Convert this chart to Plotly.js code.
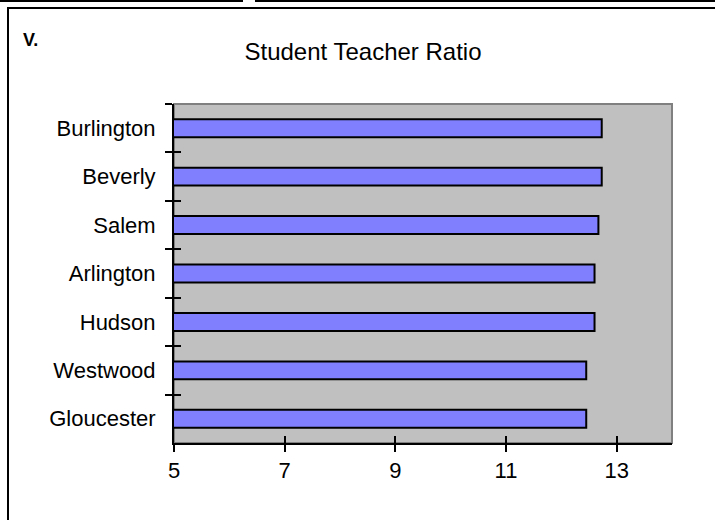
<!DOCTYPE html>
<html>
<head>
<meta charset="utf-8">
<script src="https://cdn.plot.ly/plotly-3.0.1.min.js"></script>
<style>
  html, body { margin: 0; padding: 0; background: #ffffff; }
  #wrap { position: relative; width: 715px; height: 520px; overflow: hidden; }
  #chart { position: absolute; left: 0; top: 0; width: 715px; height: 520px; }
  .rule { position: absolute; background: #000; }
</style>
</head>
<body>
<div id="wrap">
  <div class="rule" style="left:0;top:0;width:243px;height:2px;"></div>
  <div class="rule" style="left:255px;top:0;width:460px;height:2px;"></div>
  <div class="rule" style="left:7px;top:7px;width:708px;height:2px;"></div>
  <div class="rule" style="left:7px;top:7px;width:2px;height:513px;"></div>
  <div id="chart"></div>
</div>
<script>
// Data (top to bottom as shown)
const schools = ['Burlington', 'Beverly', 'Salem', 'Arlington', 'Hudson', 'Westwood', 'Gloucester'];
const ratios = [12.73, 12.73, 12.67, 12.6, 12.6, 12.45, 12.45];
const xTicks = [5, 7, 9, 11, 13];
const chartTitle = 'Student Teacher Ratio';
const cornerLabel = 'V.';

const FONT = 'Liberation Sans, Arial, sans-serif';

const traces = [
  {
    type: 'bar',
    orientation: 'h',
    x: ratios,
    y: schools,
    marker: { color: '#8080ff', line: { color: '#000000', width: 2 } },
    hoverinfo: 'x+y',
    showlegend: false
  },
  {
    type: 'bar',
    orientation: 'h',
    x: ratios,
    y: schools,
    xaxis: 'x2',
    yaxis: 'y2',
    marker: { color: 'rgba(0,0,0,0)', line: { width: 0 } },
    hoverinfo: 'skip',
    showlegend: false
  }
];

const layout = {
  width: 715,
  height: 520,
  margin: { l: 174, r: 43, t: 104, b: 77, pad: 0 },
  paper_bgcolor: 'rgba(0,0,0,0)',
  plot_bgcolor: '#c0c0c0',
  bargap: 0.63,
  font: { family: FONT, size: 22, color: '#000000' },
  title: {
    text: chartTitle,
    font: { family: FONT, size: 24, color: '#000000' },
    xref: 'container', x: 363 / 715, xanchor: 'center',
    yref: 'container', y: 1 - 52 / 520, yanchor: 'middle'
  },
  xaxis: {
    range: [5, 14],
    tickvals: xTicks,
    ticktext: xTicks.map(String),
    ticks: 'outside', ticklen: 7, tickwidth: 2, tickcolor: '#000',
    showline: true, linecolor: '#000', linewidth: 2,
    showgrid: false, zeroline: false,
    tickfont: { family: FONT, size: 22, color: '#000' },
    ticklabelstandoff: 0,
    fixedrange: true
  },
  xaxis2: {
    overlaying: 'x', anchor: 'y2', side: 'bottom',
    range: [5, 14], tickvals: xTicks,
    ticks: 'inside', ticklen: 7, tickwidth: 2, tickcolor: '#000',
    showticklabels: false, showline: false, showgrid: false, zeroline: false,
    fixedrange: true
  },
  yaxis: {
    type: 'category',
    autorange: 'reversed',
    tickson: 'boundaries',
    ticks: 'outside', ticklen: 7, tickwidth: 2, tickcolor: '#000',
    showline: true, linecolor: '#000', linewidth: 2,
    showgrid: false, zeroline: false,
    tickfont: { family: FONT, size: 22, color: '#000' },
    ticklabelstandoff: 12,
    fixedrange: true
  },
  yaxis2: {
    type: 'category',
    overlaying: 'y', anchor: 'x2', side: 'left',
    autorange: 'reversed',
    tickson: 'boundaries',
    ticks: 'inside', ticklen: 7, tickwidth: 2, tickcolor: '#000',
    showticklabels: false, showline: false, showgrid: false, zeroline: false,
    fixedrange: true
  },
  shapes: [
    {
      type: 'rect', xref: 'paper', yref: 'paper',
      x0: 0, x1: 1, y0: 0, y1: 1,
      line: { color: '#808080', width: 2 },
      fillcolor: 'rgba(0,0,0,0)',
      layer: 'below'
    }
  ],
  annotations: [
    {
      text: '<b>' + cornerLabel + '</b>',
      xref: 'paper', yref: 'paper',
      x: (21 - 174) / 498, y: (443 - 40) / 339,
      xanchor: 'left', yanchor: 'middle',
      showarrow: false,
      font: { family: FONT, size: 18, color: '#000' }
    }
  ]
};

Plotly.newPlot('chart', traces, layout, { displayModeBar: false, staticPlot: true });
</script>
</body>
</html>
